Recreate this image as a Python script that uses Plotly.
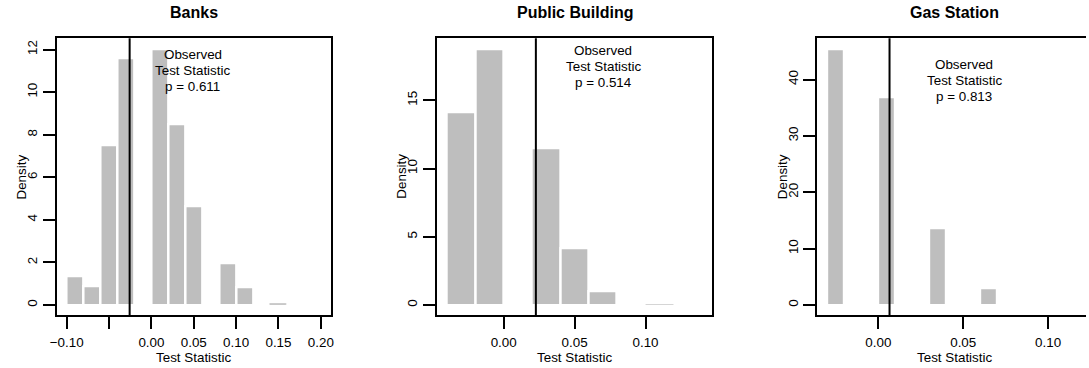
import plotly.graph_objects as go

# ---------------- data ----------------
panel_titles = ["Banks", "Public Building", "Gas Station"]

banks_bin_left = [-0.10, -0.08, -0.06, -0.04, -0.02, 0.00, 0.02, 0.04, 0.06, 0.08, 0.10, 0.12, 0.14]
banks_density = [1.36, 0.86, 7.51, 11.61, 0.0, 12.0, 8.48, 4.65, 0.0, 1.94, 0.81, 0.0, 0.08]
banks_bin_width = 0.02
banks_observed = -0.0257
banks_p = "0.611"

public_bin_left = [-0.04, -0.02, 0.00, 0.02, 0.04, 0.06, 0.08, 0.10]
public_density = [14.1, 18.7, 0.0, 11.51, 4.15, 1.02, 0.0, 0.07]
public_bin_width = 0.02
public_observed = 0.0227
public_p = "0.514"

gas_bin_left = [-0.03, -0.02, -0.01, 0.00, 0.01, 0.02, 0.03, 0.04, 0.05, 0.06]
gas_density = [45.3, 0.0, 0.0, 36.8, 0.0, 0.0, 13.6, 0.0, 0.0, 2.95]
gas_bin_width = 0.01
gas_observed = 0.0066
gas_p = "0.813"

banks_xticks = [-0.10, -0.05, 0.00, 0.05, 0.10, 0.15, 0.20]
banks_xticktext = ["\u22120.10", "", "0.00", "0.05", "0.10", "0.15", "0.20"]
public_xticks = [0.00, 0.05, 0.10]
public_xticktext = ["0.00", "0.05", "0.10"]
gas_xticks = [0.00, 0.05, 0.10]
gas_xticktext = ["0.00", "0.05", "0.10"]

banks_yticks = [0, 2, 4, 6, 8, 10, 12]
public_yticks = [0, 5, 10, 15]
gas_yticks = [0, 10, 20, 30, 40]

# ---------------- layout geometry (pixels) ----------------
W, H = 1089, 368
box_left = [50, 433.7, 817.7]
box_right = [327, 712, 1089]          # third panel runs off the right edge
box_top, box_bottom = 38.3, 315
xranges = [[-0.112, 0.212], [-0.0472, 0.1472], [-0.036, 0.1223]]
yranges = [[-0.469, 12.53], [-0.732, 19.54], [-1.772, 47.32]]
text_pos = [(0.049, 11.0), (0.0703, 17.5), (0.0505, 39.9)]
title_centers = [188.5, 572.8, 956.7]

panels = [
    (banks_bin_left, banks_density, banks_bin_width, banks_observed, banks_p,
     banks_xticks, banks_xticktext, banks_yticks),
    (public_bin_left, public_density, public_bin_width, public_observed, public_p,
     public_xticks, public_xticktext, public_yticks),
    (gas_bin_left, gas_density, gas_bin_width, gas_observed, gas_p,
     gas_xticks, gas_xticktext, gas_yticks),
]

FONT = "Liberation Sans, Arial, Helvetica, sans-serif"
FS = 13.4
fig = go.Figure()
annotations = []
shapes = []
layout_axes = {}

for i, (left, dens, bw, obs, p, xt, xtt, yt) in enumerate(panels):
    n = "" if i == 0 else str(i + 1)
    xa, ya = "x" + n, "y" + n
    centers = [l + bw / 2 for l in left]
    px_per_unit = (box_bottom - box_top) / (yranges[i][1] - yranges[i][0])
    # thin white border, reduced on very short bars so they stay visible
    line_w = [2.4 if d * px_per_unit > 4 else 0.4 for d in dens]
    fig.add_trace(go.Bar(
        x=centers, y=dens, width=bw, xaxis=xa, yaxis=ya,
        marker=dict(color="#BEBEBE", line=dict(color="white", width=line_w)),
        showlegend=False, hoverinfo="skip",
    ))
    d0 = box_left[i] / W
    d1 = min(box_right[i] / W, 1.0)
    layout_axes["xaxis" + n] = dict(
        domain=[d0, d1], range=xranges[i], anchor=ya,
        tickmode="array", tickvals=xt, ticktext=xtt,
        ticks="outside", ticklen=12, tickwidth=2, tickcolor="black",
        ticklabelstandoff=2,
        showline=True, linecolor="black", linewidth=2, mirror=True,
        showgrid=False, zeroline=False,
        tickfont=dict(family=FONT, size=FS, color="black"),
    )
    layout_axes["yaxis" + n] = dict(
        domain=[1 - box_bottom / H, 1 - box_top / H], range=yranges[i], anchor=xa,
        tickmode="array", tickvals=yt, ticktext=[str(v) for v in yt],
        ticks="outside", ticklen=12, tickwidth=2, tickcolor="black",
        showline=True, linecolor="black", linewidth=2, mirror=(i < 2),
        showgrid=False, zeroline=False, tickangle=-90,
        tickfont=dict(family=FONT, size=FS, color="black"),
    )
    # observed statistic line
    shapes.append(dict(type="line", xref=xa, yref=ya + " domain", x0=obs, x1=obs, y0=0, y1=1,
                       line=dict(color="black", width=2)))
    # annotation, one line at a time
    for k, line in enumerate(["Observed", "Test Statistic", "p = " + p]):
        annotations.append(dict(
            xref=xa, yref=ya, x=text_pos[i][0], y=text_pos[i][1], yshift=(1 - k) * 16,
            text=line, showarrow=False,
            font=dict(family=FONT, size=FS, color="black"),
            xanchor="center", yanchor="middle",
        ))
    cx = title_centers[i] / W
    # panel title
    annotations.append(dict(
        xref="paper", yref="paper", x=cx, y=1 - 12.5 / H, text="<b>" + panel_titles[i] + "</b>",
        showarrow=False, font=dict(family=FONT, size=16, color="black"),
        xanchor="center", yanchor="middle",
    ))
    # x axis title
    annotations.append(dict(
        xref="paper", yref="paper", x=cx, y=1 - 357.5 / H, text="Test Statistic",
        showarrow=False, font=dict(family=FONT, size=FS, color="black"),
        xanchor="center", yanchor="middle",
    ))
    # y axis title
    annotations.append(dict(
        xref="paper", yref="paper", x=(box_left[i] - 35) / W, y=1 - (box_top + box_bottom) / 2 / H,
        text="Density", textangle=-90,
        showarrow=False, font=dict(family=FONT, size=FS, color="black"),
        xanchor="center", yanchor="middle",
    ))

fig.update_layout(
    width=W, height=H,
    margin=dict(l=0, r=0, t=0, b=0),
    paper_bgcolor="white", plot_bgcolor="white",
    bargap=0, barmode="overlay",
    annotations=annotations, shapes=shapes,
    **layout_axes,
)

fig.write_html(
    "out.html",
    config={"displayModeBar": False},
    post_script="document.body.style.margin='0';document.body.style.overflow='hidden';",
)
